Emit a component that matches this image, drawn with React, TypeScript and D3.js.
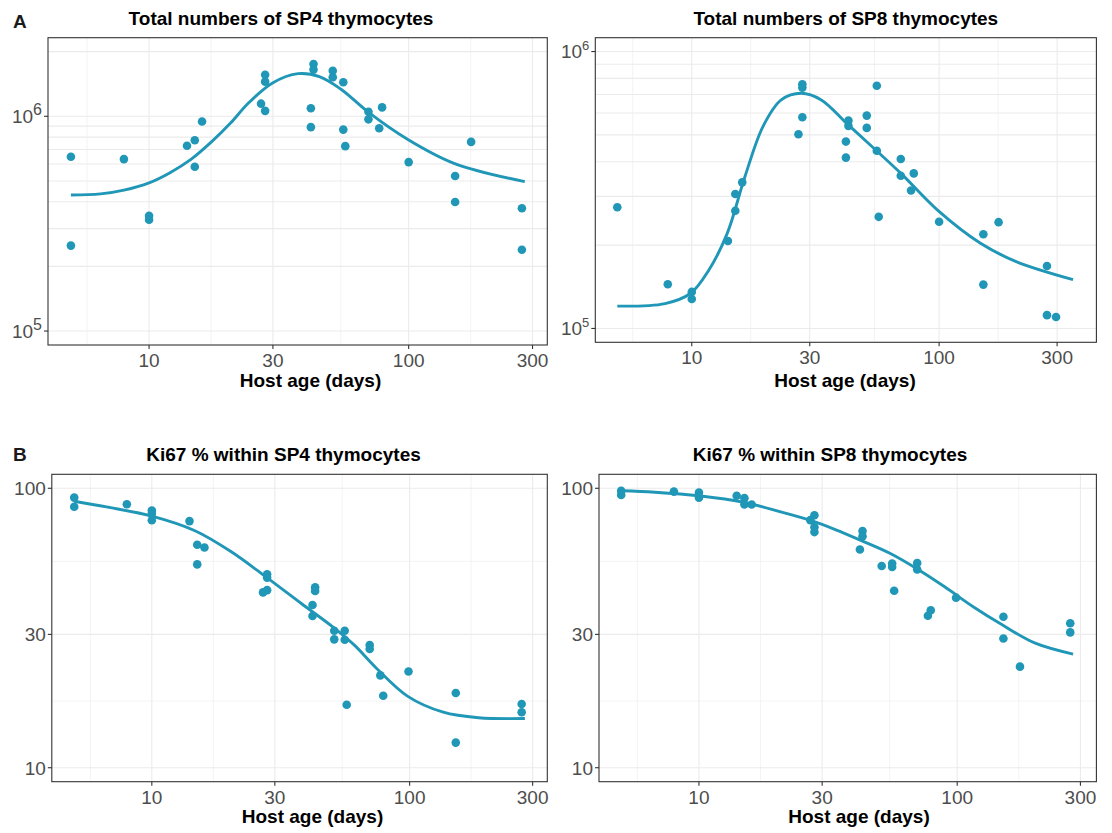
import React from "react";
import * as d3 from "d3";

// ---------- data ----------
const xTickValues = [10, 30, 100, 300];
const countTickValues = [1e5, 1e6];
const pctTickValues = [10, 30, 100];
const sp4CountGrid = [2e5, 3e5, 4e5, 5e5, 6e5, 7e5, 8e5, 9e5, 2e6];
const sp8CountGrid = [2e5, 3e5, 4e5, 5e5, 6e5, 7e5, 8e5, 9e5];

const sp4Age = [5, 5, 8, 10, 10, 14, 15, 15, 16, 27, 28, 28, 28, 42, 42, 43, 43, 51, 51, 56, 56, 57, 70, 70, 77, 79, 100, 151, 151, 174, 273, 273];
const sp4Count = [6.48e5, 2.5e5, 6.32e5, 3.44e5, 3.3e5, 7.29e5, 7.74e5, 5.82e5, 9.45e5, 1.145e6, 1.56e6, 1.45e6, 1.06e6, 1.09e6, 8.9e5, 1.75e6, 1.65e6, 1.63e6, 1.52e6, 1.44e6, 8.67e5, 7.26e5, 1.05e6, 9.68e5, 8.79e5, 1.1e6, 6.12e5, 5.27e5, 3.99e5, 7.6e5, 3.73e5, 2.39e5];
const sp4FitAge = [5, 6.5, 8, 10, 12, 14.5, 17.6, 20.6, 24.1, 29.9, 37.5, 45.3, 54.7, 70.3, 99.3, 149.5, 280];
const sp4FitCount = [4.3e5, 4.35e5, 4.53e5, 4.9e5, 5.45e5, 6.3e5, 7.7e5, 9.3e5, 1.15e6, 1.43e6, 1.58e6, 1.53e6, 1.34e6, 1.04e6, 7.8e5, 6.04e5, 4.96e5];

const sp8Age = [5, 8, 10, 10, 14, 15, 15, 16, 27, 28, 28, 28, 42, 42, 43, 43, 51, 51, 56, 56, 57, 70, 70, 79, 77, 100, 151, 151, 174, 273, 273, 297];
const sp8Count = [2.74e5, 1.445e5, 1.355e5, 1.277e5, 2.07e5, 2.66e5, 3.06e5, 3.37e5, 5.03e5, 7.62e5, 7.41e5, 5.79e5, 4.73e5, 4.14e5, 5.63e5, 5.39e5, 5.87e5, 5.3e5, 7.52e5, 4.38e5, 2.53e5, 4.09e5, 3.56e5, 3.63e5, 3.15e5, 2.43e5, 2.19e5, 1.44e5, 2.42e5, 1.68e5, 1.117e5, 1.1e5];
const sp8FitAge = [5, 7.8, 9.9, 11.7, 13.9, 16.4, 19.4, 23.0, 27.7, 33.4, 42.3, 53.5, 70.1, 98.3, 147, 206, 348];
const sp8FitCount = [1.204e5, 1.23e5, 1.34e5, 1.62e5, 2.2e5, 3.53e5, 5.36e5, 6.69e5, 7.07e5, 6.69e5, 5.5e5, 4.54e5, 3.63e5, 2.68e5, 2.03e5, 1.74e5, 1.5e5];

const ki4Age = [5, 5, 8, 10, 10, 10, 14, 15, 15, 16, 27, 28, 28, 28, 42, 42, 43, 43, 51, 51, 56, 56, 57, 70, 70, 77, 79, 99, 151, 151, 272, 272];
const ki4Pct = [92.6, 85.9, 87.7, 83.3, 81.0, 76.8, 76.3, 62.8, 53.4, 61.4, 42.4, 49.2, 47.9, 43.2, 38.2, 34.9, 44.2, 42.9, 30.9, 28.8, 30.9, 28.7, 16.8, 27.5, 26.6, 21.4, 18.1, 22.1, 18.5, 12.3, 16.9, 15.8];
const ki4FitAge = [5, 6.67, 10, 14.7, 20.2, 27.7, 38, 50.6, 61.2, 74, 98.4, 135, 185, 280];
const ki4FitPct = [89.9, 85.8, 79.5, 70.5, 59.5, 48.2, 38.7, 31.8, 27.4, 22.8, 18.0, 15.8, 15.1, 15.0];

const ki8Age = [5, 5, 8, 10, 10, 14, 15, 15, 16, 27, 28, 28, 28, 42, 43, 43, 51, 56, 56, 57, 70, 70, 77, 79, 99, 151, 151, 175, 274, 274];
const ki8Pct = [97.9, 94.7, 97.3, 96.6, 92.5, 94.0, 92.2, 87.5, 87.5, 76.9, 80.1, 72.6, 69.7, 60.4, 70.3, 67.3, 52.7, 53.8, 52.3, 43.0, 54.0, 51.2, 35.0, 36.6, 40.6, 34.7, 29.0, 23.0, 32.9, 30.5];
const ki8FitAge = [5, 6.74, 10, 15.1, 20.9, 27.1, 33.9, 42.5, 55.1, 71.3, 89.4, 115.7, 149.9, 200.5, 281];
const ki8FitPct = [98.0, 96.8, 94.0, 88.8, 82.1, 76.7, 71.0, 65.0, 58.4, 50.9, 44.4, 37.6, 32.4, 27.9, 25.5];

// ---------- style ----------
const TEAL = "#2097B7";
const FONT = "'Liberation Sans', Arial, Helvetica, sans-serif";
const GRID = "#EBEBEB";
const DARK = "#333333";
const TICKTXT = "#4D4D4D";
const FS = 19;

type Box = { left: number; right: number; top: number; bottom: number };

function minorBreaks(majors: number[], lo: number, hi: number) {
  const b = majors.map(Math.log10);
  const bd = b[1] - b[0];
  const ext = [b[0] - bd, ...b, b[b.length - 1] + bd];
  const out: number[] = [];
  for (let i = 0; i < ext.length - 1; i++) {
    const m = (ext[i] + ext[i + 1]) / 2;
    if (m > lo && m < hi) out.push(Math.pow(10, m));
  }
  return out;
}

interface PanelProps {
  box: Box;
  xLogDomain: [number, number];
  yLogDomain: [number, number];
  xs: number[];
  ys: number[];
  fx: number[];
  fy: number[];
  yTicks: number[];
  power: boolean;
  supSize: number;
  supShift: number;
  yMinorGrid: number[];
  yGridAllMajor: boolean;
  title: string;
  titleX: number;
  titleY: number;
  axisX: number;
  axisY: number;
}

function Panel(p: PanelProps) {
  const { box } = p;
  const x = d3.scaleLog().domain(p.xLogDomain.map((v) => Math.pow(10, v))).range([box.left, box.right]);
  const y = d3.scaleLog().domain(p.yLogDomain.map((v) => Math.pow(10, v))).range([box.bottom, box.top]);
  const xMinor = minorBreaks(xTickValues, p.xLogDomain[0], p.xLogDomain[1]);
  const yMinorAuto = p.power ? [] : minorBreaks(p.yTicks, p.yLogDomain[0], p.yLogDomain[1]);
  const fit = p.fx.map((v, i) => [v, p.fy[i]] as [number, number]);
  const line = d3
    .line<[number, number]>()
    .x((d) => x(d[0]))
    .y((d) => y(d[1]))
    .curve(d3.curveCatmullRom.alpha(0.5));
  const clipId = "clip" + Math.round(box.left) + "_" + Math.round(box.top);
  return (
    <g>
      <defs>
        <clipPath id={clipId}>
          <rect x={box.left} y={box.top} width={box.right - box.left} height={box.bottom - box.top} />
        </clipPath>
      </defs>
      <rect x={box.left} y={box.top} width={box.right - box.left} height={box.bottom - box.top} fill="white" />
      {xMinor.map((v, i) => (
        <line key={"xm" + i} x1={x(v)} x2={x(v)} y1={box.top} y2={box.bottom} stroke={GRID} strokeWidth={0.6} />
      ))}
      {yMinorAuto.map((v, i) => (
        <line key={"ym" + i} y1={y(v)} y2={y(v)} x1={box.left} x2={box.right} stroke={GRID} strokeWidth={0.6} />
      ))}
      {p.yMinorGrid.map((v, i) => (
        <line key={"yg" + i} y1={y(v)} y2={y(v)} x1={box.left} x2={box.right} stroke={GRID} strokeWidth={p.yGridAllMajor ? 1.1 : 0.6} />
      ))}
      {xTickValues.map((v, i) => (
        <line key={"xM" + i} x1={x(v)} x2={x(v)} y1={box.top} y2={box.bottom} stroke={GRID} strokeWidth={1.1} />
      ))}
      {p.yTicks.map((v, i) => (
        <line key={"yM" + i} y1={y(v)} y2={y(v)} x1={box.left} x2={box.right} stroke={GRID} strokeWidth={1.1} />
      ))}
      <g clipPath={`url(#${clipId})`}>
        <path d={line(fit) || ""} fill="none" stroke={TEAL} strokeWidth={2.9} />
        {p.xs.map((v, i) => (
          <circle key={"pt" + i} cx={x(v)} cy={y(p.ys[i])} r={4.3} fill={TEAL} />
        ))}
      </g>
      <rect x={box.left} y={box.top} width={box.right - box.left} height={box.bottom - box.top} fill="none" stroke={DARK} strokeWidth={1.1} />
      {xTickValues.map((v, i) => (
        <g key={"xt" + i}>
          <line x1={x(v)} x2={x(v)} y1={box.bottom} y2={box.bottom + 4} stroke={DARK} strokeWidth={1.1} />
          <text x={x(v)} y={box.bottom + 22} textAnchor="middle" fontSize={FS} fill={TICKTXT} fontFamily={FONT}>
            {v}
          </text>
        </g>
      ))}
      {p.yTicks.map((v, i) => (
        <g key={"yt" + i}>
          <line x1={box.left - 4} x2={box.left} y1={y(v)} y2={y(v)} stroke={DARK} strokeWidth={1.1} />
          <text x={box.left - 6} y={y(v) + 6.8} textAnchor="end" fontSize={FS} fill={TICKTXT} fontFamily={FONT}>
            {p.power ? (
              <>
                10
                <tspan fontSize={p.supSize} dy={-p.supShift}>
                  {Math.round(Math.log10(v))}
                </tspan>
              </>
            ) : (
              v
            )}
          </text>
        </g>
      ))}
      <text x={p.titleX} y={p.titleY} textAnchor="middle" fontSize={FS} fontWeight="bold" fill="#000" fontFamily={FONT}>
        {p.title}
      </text>
      <text x={p.axisX} y={p.axisY} textAnchor="middle" fontSize={FS} fontWeight="bold" fill="#000" fontFamily={FONT}>
        Host age (days)
      </text>
    </g>
  );
}

export default function App() {
  return (
    <svg width={1112} height={833} style={{ position: "absolute", left: 0, top: 0, background: "white" }}>
      <rect x={0} y={0} width={1112} height={833} fill="white" />
      <text x={13} y={28} fontSize={19} fontWeight="bold" fontFamily={FONT} fill="#1a1a1a">A</text>
      <text x={13} y={461} fontSize={19} fontWeight="bold" fontFamily={FONT} fill="#1a1a1a">B</text>
      <Panel
        box={{ left: 48, right: 547.3, top: 37.7, bottom: 345 }}
        xLogDomain={[0.6107, 2.534]}
        yLogDomain={[4.935, 6.366]}
        xs={sp4Age}
        ys={sp4Count}
        fx={sp4FitAge}
        fy={sp4FitCount}
        yTicks={countTickValues}
        power={true}
        supSize={16}
        supShift={8}
        yMinorGrid={sp4CountGrid}
        yGridAllMajor={true}
        title="Total numbers of SP4 thymocytes"
        titleX={281}
        titleY={25}
        axisX={310.5}
        axisY={387}
      />
      <Panel
        box={{ left: 595.3, right: 1096.4, top: 37.7, bottom: 342.3 }}
        xLogDomain={[0.61, 2.636]}
        yLogDomain={[4.95, 6.05]}
        xs={sp8Age}
        ys={sp8Count}
        fx={sp8FitAge}
        fy={sp8FitCount}
        yTicks={countTickValues}
        power={true}
        supSize={13}
        supShift={8}
        yMinorGrid={sp8CountGrid}
        yGridAllMajor={true}
        title="Total numbers of SP8 thymocytes"
        titleX={845.8}
        titleY={25}
        axisX={845}
        axisY={387}
      />
      <Panel
        box={{ left: 51.8, right: 547.3, top: 474.3, bottom: 781.7 }}
        xLogDomain={[0.612, 2.534]}
        yLogDomain={[0.95, 2.05]}
        xs={ki4Age}
        ys={ki4Pct}
        fx={ki4FitAge}
        fy={ki4FitPct}
        yTicks={pctTickValues}
        power={false}
        supSize={0}
        supShift={0}
        yMinorGrid={[]}
        yGridAllMajor={false}
        title="Ki67 % within SP4 thymocytes"
        titleX={283.5}
        titleY={461}
        axisX={312.5}
        axisY={823}
      />
      <Panel
        box={{ left: 599, right: 1096.4, top: 474.3, bottom: 781.7 }}
        xLogDomain={[0.613, 2.539]}
        yLogDomain={[0.95, 2.05]}
        xs={ki8Age}
        ys={ki8Pct}
        fx={ki8FitAge}
        fy={ki8FitPct}
        yTicks={pctTickValues}
        power={false}
        supSize={0}
        supShift={0}
        yMinorGrid={[]}
        yGridAllMajor={false}
        title="Ki67 % within SP8 thymocytes"
        titleX={830}
        titleY={461}
        axisX={859}
        axisY={823}
      />
    </svg>
  );
}
